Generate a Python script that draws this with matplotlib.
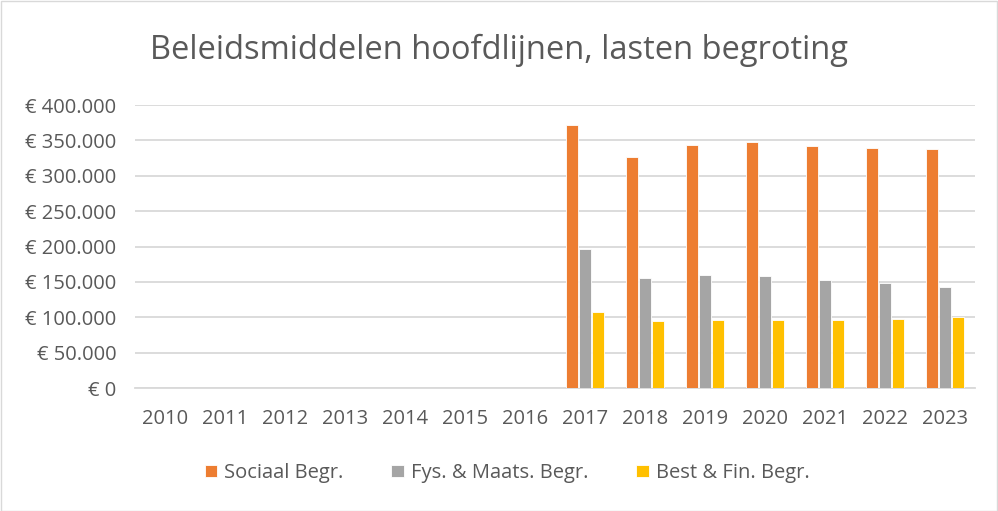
import matplotlib

matplotlib.use("Agg")
import matplotlib.pyplot as plt
import numpy as np
from matplotlib.patches import Rectangle
from matplotlib.ticker import FuncFormatter

plt.rcParams["font.family"] = ["Open Sans", "DejaVu Sans"]

years = [str(y) for y in range(2010, 2024)]
sociaal = [0, 0, 0, 0, 0, 0, 0, 372000, 327000, 343000, 348000, 342000, 339000, 338000]
fys_maats = [0, 0, 0, 0, 0, 0, 0, 196000, 155000, 160000, 159000, 152000, 148000, 143000]
best_fin = [0, 0, 0, 0, 0, 0, 0, 107000, 94000, 96000, 96000, 96000, 97000, 100000]

series = [
    ("Sociaal Begr.", sociaal, "#ED7D31"),
    ("Fys. & Maats. Begr.", fys_maats, "#A5A5A5"),
    ("Best & Fin. Begr.", best_fin, "#FFC000"),
]

TEXT = "#595959"
GRID = "#D9D9D9"

fig = plt.figure(figsize=(9.98, 5.11), dpi=100)
fig.patch.set_facecolor("white")
ax = fig.add_axes([135 / 998, 1 - 388 / 511, 840 / 998, 283 / 511])

x = np.arange(len(years))
step = 0.222
for i, (label, vals, color) in enumerate(series):
    ax.bar(x + (i - 1) * step, vals, width=0.2, color=color, label=label,
           edgecolor="white", linewidth=0.6, zorder=3)

ax.set_xlim(-0.5, len(years) - 0.5)
ax.set_ylim(0, 400000)
ax.set_yticks(np.arange(0, 400001, 50000))
ax.yaxis.set_major_formatter(FuncFormatter(
    lambda v, _: "€ 0" if v == 0 else "€ " + f"{int(v):,}".replace(",", ".")))
ax.set_xticks(x)
ax.set_xticklabels(years)
ax.grid(axis="y", color=GRID, linewidth=1.3, zorder=0)
for s in ["top", "right", "left"]:
    ax.spines[s].set_visible(False)
ax.spines["bottom"].set_color(GRID)
ax.spines["bottom"].set_linewidth(1.3)
ax.tick_params(axis="both", length=0, colors=TEXT, labelsize=14.5)
ax.tick_params(axis="y", pad=13.5)
ax.tick_params(axis="x", pad=15)

fig.text(0.5, 1 - 50 / 511, "Beleidsmiddelen hoofdlijnen, lasten begroting",
         ha="center", va="center", fontsize=23.5, color=TEXT)

fig.legend(loc="center", bbox_to_anchor=(0.508, 1 - 473 / 511), ncol=3,
           frameon=False, fontsize=14.5, labelcolor=TEXT,
           handlelength=0.6, handleheight=0.6, handletextpad=0.35,
           columnspacing=2.4)

fig.patches.append(Rectangle((0.5 / 998, 0.5 / 511), 996 / 998, 509 / 511,
                             transform=fig.transFigure, fill=False,
                             edgecolor=GRID, linewidth=1))

fig.savefig("out.png", dpi=100, facecolor="white")
plt.close(fig)
